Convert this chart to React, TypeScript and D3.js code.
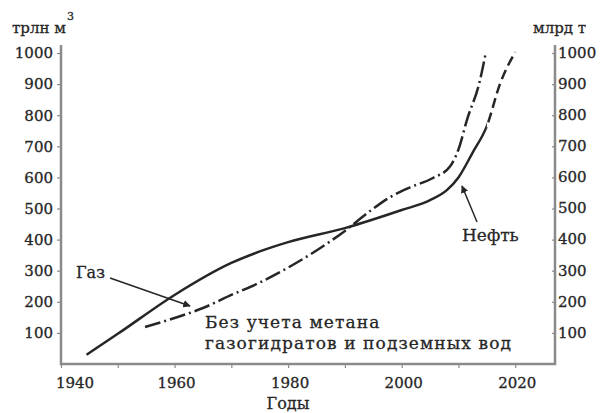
import React, { useRef, useEffect } from 'react';
import * as d3 from 'd3';

// Нефть: observed part (solid) and forecast (dashed)
const oilYears = [1944.5, 1950, 1960, 1970, 1975, 1980, 1990, 2000, 2005, 2008, 2010, 2012.5, 2015];
const oilValues = [30, 97, 222, 325, 362, 392, 437, 495, 527, 560, 600, 680, 765];
const oilForecastYears = [2017.3, 2020];
const oilForecastValues = [900, 1003];
const oilForecastFrom = 2015;

// Газ (dash-dot)
const gasYears = [1954.8, 1960, 1965, 1970, 1975, 1980, 1985, 1990, 1994, 1998, 2001.5, 2005.5, 2008.5, 2010, 2011.5, 2013.8, 2014.8];
const gasValues = [119, 148, 180, 222, 262, 310, 365, 428, 486, 537, 568, 598, 635, 690, 785, 913, 1000];

const xTicks = [1940, 1960, 1980, 2000, 2020];
const xMinorTicks = [1950, 1970, 1990, 2010];
const yTicks = [100, 200, 300, 400, 500, 600, 700, 800, 900, 1000];

const FONT = '"DejaVu Serif", serif';
const INK = '#262626';
const AXIS = '#8a8a8a';

export default function App() {
  const svgRef = useRef<SVGSVGElement>(null);
  const width = 610;
  const height = 413;

  useEffect(() => {
    if (!svgRef.current) return;
    const svg = d3.select(svgRef.current);
    svg.selectAll('*').remove();

    const left = 61;
    const right = 555;
    const bottom = 364;
    const top = 45;

    const x = d3.scaleLinear().domain([1940, 2027]).range([left, right]);
    const y = d3.scaleLinear().domain([0, 1000]).range([bottom, 53]);

    const defs = svg.append('defs');

    // frame (left, bottom, right)
    svg.append('path')
      .attr('d', `M${left},${top}V${bottom}H${right}V${top}`)
      .attr('fill', 'none')
      .attr('stroke', AXIS)
      .attr('stroke-width', 2.5);

    // bottom ticks
    const xAxis = svg.append('g')
      .attr('transform', `translate(0,${bottom})`)
      .call(d3.axisBottom(x).tickValues([...xTicks, ...xMinorTicks].sort()).tickSize(4).tickFormat(() => ''));
    xAxis.select('.domain').remove();
    xAxis.selectAll('line').attr('stroke', AXIS).attr('stroke-width', 1.2);

    const label = (sel: d3.Selection<SVGTextElement, unknown, null, undefined>, size = 15) =>
      sel.attr('font-family', FONT)
        .attr('font-size', size)
        .attr('fill', INK)
        .attr('stroke', INK)
        .attr('stroke-width', 0.3);

    xTicks.forEach((t, i) => {
      label(svg.append('text'))
        .attr('x', x(t) + (i === 0 ? 14 : 2))
        .attr('y', 388)
        .attr('text-anchor', 'middle')
        .text(t);
    });

    // left axis
    const yLeft = svg.append('g')
      .attr('transform', `translate(${left},0)`)
      .call(d3.axisLeft(y).tickValues(yTicks).tickSize(4).tickPadding(4).tickFormat(d3.format('d')));
    yLeft.select('.domain').remove();
    yLeft.selectAll('line').attr('stroke', AXIS).attr('stroke-width', 1.2);
    yLeft.selectAll('text')
      .attr('font-family', FONT)
      .attr('font-size', 15)
      .attr('fill', INK)
      .attr('stroke', INK)
      .attr('stroke-width', 0.3);

    // right axis
    const yRight = svg.append('g')
      .attr('transform', `translate(${right},0)`)
      .call(d3.axisLeft(y).tickValues(yTicks).tickSize(3).tickFormat(() => ''));
    yRight.select('.domain').remove();
    yRight.selectAll('line').attr('stroke', AXIS).attr('stroke-width', 1.2);
    yTicks.forEach((t) => {
      label(svg.append('text'))
        .attr('x', right + 3)
        .attr('y', y(t))
        .attr('dy', '0.32em')
        .text(t);
    });

    // unit labels
    const unitL = label(svg.append('text')).attr('x', 12).attr('y', 33);
    unitL.append('tspan').text('трлн м');
    unitL.append('tspan').attr('font-size', 11).attr('dy', -13).attr('dx', 1).text('3');

    label(svg.append('text')).attr('x', 533).attr('y', 33).text('млрд т');

    label(svg.append('text'), 16)
      .attr('x', 288)
      .attr('y', 409)
      .attr('text-anchor', 'middle')
      .text('Годы');

    const line = d3.line<[number, number]>()
      .x((d) => x(d[0]))
      .y((d) => y(d[1]))
      .curve(d3.curveMonotoneX);

    const oilAll = [
      ...oilYears.map((t, i) => [t, oilValues[i]] as [number, number]),
      ...oilForecastYears.map((t, i) => [t, oilForecastValues[i]] as [number, number]),
    ];
    const gas = gasYears.map((t, i) => [t, gasValues[i]] as [number, number]);

    const split = x(oilForecastFrom);
    defs.append('clipPath').attr('id', 'clip-fact')
      .append('rect').attr('x', 0).attr('y', 0).attr('width', split).attr('height', height);
    defs.append('clipPath').attr('id', 'clip-forecast')
      .append('rect').attr('x', split).attr('y', 0).attr('width', width - split).attr('height', height);

    svg.append('path')
      .attr('d', line(gas))
      .attr('fill', 'none')
      .attr('stroke', INK)
      .attr('stroke-width', 2.5)
      .attr('stroke-dasharray', '16,4,2,4');

    svg.append('path')
      .attr('d', line(oilAll))
      .attr('clip-path', 'url(#clip-fact)')
      .attr('fill', 'none')
      .attr('stroke', INK)
      .attr('stroke-width', 2.5);

    svg.append('path')
      .attr('d', line(oilAll))
      .attr('clip-path', 'url(#clip-forecast)')
      .attr('fill', 'none')
      .attr('stroke', INK)
      .attr('stroke-width', 2.5)
      .attr('stroke-dasharray', '10,5');

    // arrow marker
    defs.append('marker')
      .attr('id', 'arrow')
      .attr('viewBox', '0 0 10 10')
      .attr('refX', 9)
      .attr('refY', 5)
      .attr('markerWidth', 5)
      .attr('markerHeight', 5)
      .attr('orient', 'auto')
      .append('path')
      .attr('d', 'M0,0L10,5L0,10Z')
      .attr('fill', INK);

    // Газ annotation
    label(svg.append('text'), 16).attr('x', 76).attr('y', 278).text('Газ');
    svg.append('line')
      .attr('x1', 110).attr('y1', 278)
      .attr('x2', 190).attr('y2', 306)
      .attr('stroke', INK)
      .attr('stroke-width', 1.5)
      .attr('marker-end', 'url(#arrow)');

    // Нефть annotation
    label(svg.append('text'), 17).attr('x', 462).attr('y', 241).text('Нефть');
    svg.append('line')
      .attr('x1', 477).attr('y1', 222)
      .attr('x2', 462).attr('y2', 186)
      .attr('stroke', INK)
      .attr('stroke-width', 1.5)
      .attr('marker-end', 'url(#arrow)');

    // note
    const note = label(svg.append('text'), 17).attr('letter-spacing', 1.1);
    note.append('tspan').attr('x', 205).attr('y', 328).text('Без учета метана');
    note.append('tspan').attr('x', 205).attr('y', 349).text('газогидратов и подземных вод');
  }, []);

  return (
    <svg
      ref={svgRef}
      width={width}
      height={height}
      style={{ position: 'absolute', left: 0, top: 0, background: '#fff' }}
    />
  );
}
